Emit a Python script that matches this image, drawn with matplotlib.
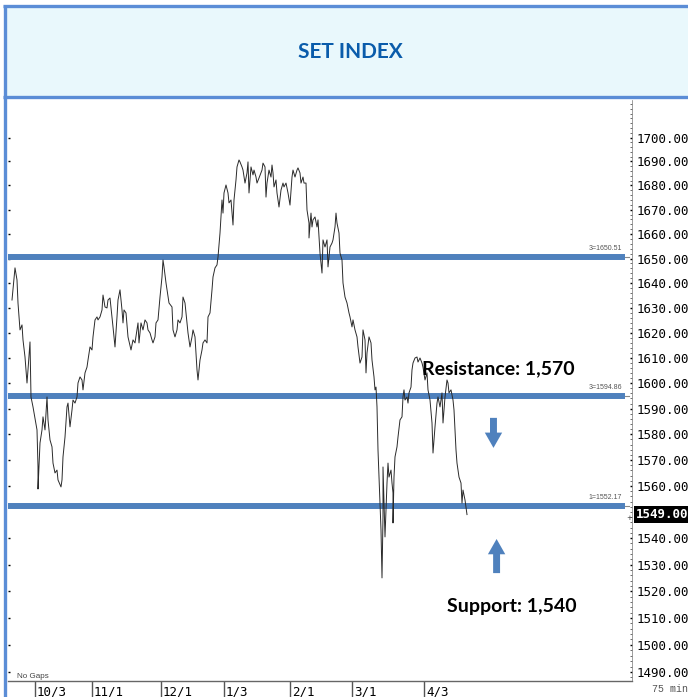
import numpy as np
import matplotlib
matplotlib.use('Agg')
import matplotlib.pyplot as plt
import matplotlib.ticker as mticker
import matplotlib.transforms as mtrans
from matplotlib.patches import Rectangle

# SET index, 75 min bars (bar number, close)
bar_no = [0, 3, 5, 6, 8, 10, 11, 13, 15, 16, 18, 19, 21, 25, 26, 26, 28, 30, 31, 33,
          35, 36, 38, 40, 41, 43, 45, 46, 49, 50, 51, 53, 55, 56, 58, 60, 61, 63, 65, 66,
          68, 70, 71, 73, 75, 76, 78, 80, 81, 83, 85, 86, 88, 90, 91, 93, 95, 96, 98, 100,
          101, 103, 105, 106,
          108, 110, 111, 112, 114, 116, 119, 121, 123, 125, 126, 127, 129, 131, 133, 135, 136, 138, 140, 141,
          143, 144, 146, 148, 150, 151, 152, 154, 155, 157, 160, 161, 163, 165, 166, 168, 170, 171, 173, 175,
          176, 178, 180, 181, 183, 185, 186, 188, 190, 191, 193, 195, 196, 198, 200, 201, 203, 205, 206, 208,
          210, 211, 212, 214, 216, 217, 219, 221, 222, 224, 225, 227,
          228, 230, 231, 233, 235, 236, 237, 239, 241, 242, 244, 245, 247, 250, 251, 253, 254, 255, 257, 259,
          260, 261, 262, 264, 265, 267, 269, 271, 272, 274, 276, 278, 280, 281, 283, 285, 286, 288, 289, 291,
          292, 294, 295, 297, 297, 299, 300, 301, 303, 305, 306, 307, 308, 310, 311, 313, 315, 316, 318, 320,
          321, 323, 324, 325, 327, 328, 330, 331, 333, 335, 337,
          338, 340, 341, 343, 345, 346, 348, 350, 351, 353, 354, 355, 357, 359, 360, 362, 363, 364, 365, 366,
          367, 368, 369, 370, 371, 371, 372, 373, 375, 376, 377, 379, 380, 381, 381, 382, 383, 385, 386, 388,
          390, 391, 392, 393, 395, 396, 397, 399, 400, 401, 403, 405, 406, 408, 410, 411, 413, 415, 416, 418,
          420, 421, 422, 423, 425, 426, 428, 430, 431, 433, 435, 436, 437, 439, 441, 442, 444, 445, 447, 449,
          450, 451, 453, 455]

close = [1633.2, 1646.2, 1641.3, 1632.0, 1621.2, 1623.2, 1617.2, 1610.4, 1600.1, 1605.3,
         1616.4, 1594.6, 1590.7, 1581.7, 1567.3, 1558.8, 1576.6, 1581.7, 1586.8, 1581.7,
         1594.6, 1585.6, 1577.8, 1575.1, 1568.8, 1565.0, 1566.1, 1562.3, 1559.6, 1562.3,
         1571.2, 1578.9, 1590.7, 1592.2, 1582.9, 1589.5, 1593.4, 1592.2, 1594.6, 1600.1,
         1602.5, 1601.3, 1597.4, 1604.1, 1606.4, 1609.2, 1614.4, 1613.2, 1618.4, 1625.2,
         1626.4, 1625.2, 1626.4, 1629.2, 1635.2, 1630.4, 1630.0, 1633.2, 1634.0, 1626.4,
         1622.4, 1614.4, 1626.4, 1633.2,
         1637.3, 1629.2, 1624.0, 1629.2, 1628.0, 1618.4, 1613.2, 1617.2, 1616.0, 1621.2,
         1624.0, 1616.0, 1624.0, 1621.2, 1625.2, 1624.0, 1621.2, 1620.0, 1617.2, 1616.0,
         1618.4, 1624.0, 1625.2, 1634.4, 1642.5, 1649.4, 1646.6, 1640.1, 1637.3, 1632.0,
         1630.4, 1621.2, 1618.4, 1621.2, 1625.2, 1624.0, 1626.4, 1634.4, 1632.0, 1624.0,
         1620.0, 1614.4, 1618.4, 1621.2, 1618.4, 1605.3, 1601.3, 1609.2, 1613.2, 1616.0,
         1617.2, 1616.0, 1626.4, 1628.0, 1637.3, 1642.5, 1646.2, 1647.4, 1650.6, 1660.4,
         1674.0, 1668.6, 1676.9, 1680.2, 1676.9, 1672.8, 1674.0, 1663.7, 1674.0, 1682.3,
         1687.7, 1690.6,
         1689.8, 1687.7, 1686.4, 1681.0, 1685.2, 1689.8, 1676.9, 1687.7, 1684.4, 1686.4,
         1683.5, 1681.0, 1683.1, 1686.4, 1689.3, 1687.7, 1675.2, 1681.0, 1686.4, 1683.5,
         1688.5, 1685.2, 1679.4, 1682.3, 1676.9, 1671.1, 1678.1, 1681.0, 1679.4, 1681.0,
         1676.9, 1671.9, 1683.5, 1686.4, 1683.5, 1686.4, 1687.3, 1685.2, 1681.0, 1683.5,
         1681.0, 1681.0, 1669.9, 1664.5, 1658.4, 1668.6, 1662.9, 1665.8, 1667.0, 1662.9,
         1665.8, 1658.8, 1652.2, 1644.1, 1657.6, 1654.7, 1657.6, 1646.6, 1654.7, 1656.3,
         1657.6, 1662.9, 1668.6, 1664.5, 1660.4, 1652.2, 1649.4, 1640.1, 1634.4, 1632.0,
         1628.0,
         1626.4, 1622.4, 1625.2, 1621.2, 1618.4, 1614.4, 1608.0, 1610.4, 1621.2, 1617.2,
         1604.1, 1612.0, 1618.4, 1616.0, 1609.2, 1602.5, 1597.4, 1598.5, 1590.7, 1573.9,
         1563.4, 1553.4, 1543.1, 1525.0, 1548.1, 1567.3, 1553.4, 1540.5, 1561.1, 1568.8,
         1563.4, 1566.1, 1561.1, 1557.3, 1545.8, 1563.4, 1571.2, 1575.1, 1578.9, 1585.6,
         1586.8, 1594.6, 1597.4, 1593.4, 1594.6, 1592.2, 1596.2, 1598.5, 1605.3, 1608.0,
         1610.0, 1610.4, 1608.4, 1610.0, 1608.0, 1606.4, 1601.3, 1604.1, 1597.4, 1593.4,
         1584.4, 1572.7, 1577.8, 1582.9, 1592.2, 1594.6, 1590.7, 1596.2, 1584.4, 1594.6,
         1601.3, 1600.1, 1596.2, 1597.4, 1593.4, 1589.5, 1573.9, 1568.8, 1563.4, 1561.1,
         1553.4, 1558.4, 1554.6, 1549.0]

month_labels = ['10/3', '11/1', '12/1', '1/3', '2/1', '3/1', '4/3']
month_bars = [23, 80, 149, 212, 278, 340, 412]

level_values = [1650.51, 1594.86, 1552.17]
level_tags = ['3=1650.51', '3=1594.86', '1=1552.17']

y_ticks = [v for v in range(1490, 1701, 10) if v != 1550]

BLUE = '#4F81BD'
BORDER = '#5B8DD6'

fig = plt.figure(figsize=(6.88, 6.97), dpi=100)

# header / frame drawn in pixel coordinates
ov = fig.add_axes([0, 0, 1, 1])
ov.set_xlim(0, 688)
ov.set_ylim(697, 0)
ov.axis('off')
ov.set_zorder(0)
ov.add_patch(Rectangle((5, 6), 684, 90, facecolor='#E9F8FC', edgecolor='none'))
ov.plot([3, 688], [6, 6], color=BORDER, lw=2.4, solid_capstyle='butt')
ov.plot([4.5, 4.5], [5, 697], color=BORDER, lw=2.4, solid_capstyle='butt')
ov.plot([3, 688], [96.5, 96.5], color=BORDER, lw=2.4, solid_capstyle='butt')
ov.text(350, 52, 'SET INDEX', ha='center', va='center', color='#0A5CAB',
        fontsize=15, fontweight='bold', family='Lato')
ov.text(17, 676, 'No Gaps', ha='left', va='center', color='#444444',
        fontsize=5.8, family='Liberation Sans')
ov.text(688, 689, '75 min', ha='right', va='center', color='#555555',
        fontsize=7.2, family='Liberation Mono')

ax = fig.add_axes([8 / 688, 16 / 697, 624 / 688, 581 / 697])
ax.set_zorder(1)
ax.patch.set_alpha(0)

ax.plot(bar_no, close, color='#2a2a2a', lw=0.7, zorder=3)

for val, tag in zip(level_values, level_tags):
    ax.axhline(val, xmin=0, xmax=0.995, color='#888888', lw=0.8, zorder=2)
    ax.axhline(val, xmin=0, xmax=0.984, color=BLUE, lw=4.3, zorder=2.5)
    ax.annotate(tag, xy=(0.984, val), xycoords=('axes fraction', 'data'),
                xytext=(0, 3.5), textcoords='offset points', ha='right', va='bottom',
                fontsize=5, color='#555555', family='Liberation Sans')

ax.set_yscale('log')
ax.set_ylim(1486.7, 1715.8)
ax.set_xlim(-4, 620)

ax.yaxis.set_major_locator(mticker.FixedLocator(y_ticks))
ax.yaxis.set_major_formatter(mticker.FixedFormatter(['%.2f' % v for v in y_ticks]))
ax.yaxis.set_minor_locator(mticker.FixedLocator(list(range(1488, 1715, 2))))
ax.yaxis.set_minor_formatter(mticker.NullFormatter())
ax.tick_params(axis='y', which='major', direction='in', left=True, right=True,
               labelleft=False, labelright=True, length=1.1, width=1.0, pad=2.9,
               labelsize=9, colors='black')
ax.tick_params(axis='y', which='minor', direction='in', left=False, right=True,
               length=1.1, width=0.6, color='#555555')
for lab in ax.get_yticklabels():
    lab.set_family('DejaVu Sans Mono')

ax.set_xticks(month_bars)
ax.set_xticklabels(month_labels, family='DejaVu Sans Mono', fontsize=9)
ax.tick_params(axis='x', direction='out', length=11.5, width=1, color='#555555', pad=-8.6)
offset = mtrans.ScaledTranslation(2 / 100, 0, fig.dpi_scale_trans)
for lab in ax.get_xticklabels():
    lab.set_ha('left')
    lab.set_transform(lab.get_transform() + offset)

for side in ['left', 'top']:
    ax.spines[side].set_visible(False)
ax.spines['right'].set_color('#777777')
ax.spines['right'].set_linewidth(0.5)
ax.spines['bottom'].set_color('#666666')
ax.spines['bottom'].set_linewidth(1)

# last price box
ax.text(1.0064, close[-1], '%.2f' % close[-1], transform=ax.get_yaxis_transform(),
        ha='left', va='center', color='white', fontsize=9, family='DejaVu Sans Mono',
        fontweight='bold', bbox=dict(facecolor='black', edgecolor='none', pad=1.2),
        clip_on=False)
ax.text(0.996, close[-1], '+', transform=ax.get_yaxis_transform(), ha='center',
        va='top', fontsize=5, color='#333333')

# resistance / support notes
ax.text(0.663, 1605.7, 'Resistance: 1,570', ha='left', va='center', fontsize=14,
        fontweight='bold', family='Lato', transform=ax.get_yaxis_transform())
ax.text(0.7035, 1514.4, 'Support: 1,540', ha='left', va='center', fontsize=14,
        fontweight='bold', family='Lato', transform=ax.get_yaxis_transform())

arrow_style = 'simple,head_length=1.1,head_width=1.25,tail_width=0.5'
ax.annotate('', xy=(0.778, 1574.7), xytext=(0.778, 1586.4),
            xycoords=('axes fraction', 'data'),
            arrowprops=dict(arrowstyle=arrow_style, color=BLUE, mutation_scale=10,
                            shrinkA=0, shrinkB=0, lw=0))
ax.annotate('', xy=(0.783, 1539.7), xytext=(0.783, 1526.8),
            xycoords=('axes fraction', 'data'),
            arrowprops=dict(arrowstyle=arrow_style, color=BLUE, mutation_scale=10,
                            shrinkA=0, shrinkB=0, lw=0))

fig.savefig('out.png', dpi=100)
plt.close(fig)
